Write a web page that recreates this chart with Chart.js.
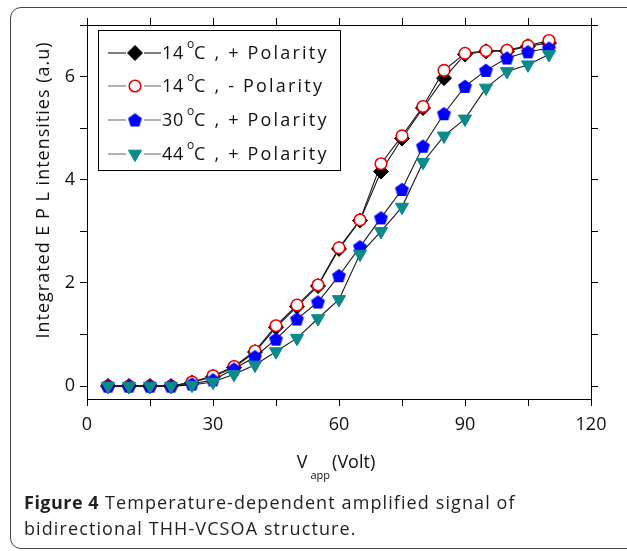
<!DOCTYPE html>
<html><head><meta charset="utf-8">
<script src="https://cdn.jsdelivr.net/npm/chart.js@4/dist/chart.umd.min.js"></script>
<style>
body{margin:0;background:#fff;}
#wrap{position:relative;width:627px;height:551px;overflow:hidden;background:#fff;}
#frame{position:absolute;left:10px;top:7px;width:660px;height:542px;border:1px solid #444;border-radius:11px;box-sizing:border-box;}
#c{position:absolute;left:0;top:0;}
#cap{position:absolute;left:24px;top:489px;font-family:"Open Sans";font-size:18px;letter-spacing:1.1px;line-height:26px;color:#231f20;white-space:nowrap;}
#cap b{letter-spacing:0.5px;}
</style></head>
<body><div id="wrap"><div id="frame"></div><canvas id="c" width="627" height="551"></canvas><div id="cap"><b>Figure 4</b> Temperature-dependent amplified signal of<br>bidirectional THH-VCSOA structure.</div></div>
<script>
// ---- data ----
const voltages = [5,10,15,20,25,30,35,40,45,50,55,60,65,70,75,80,85,90,95,100,105,110];
const pos14 = [0,0,0,0,0.07,0.18,0.36,0.66,1.14,1.54,1.94,2.66,3.21,4.16,4.80,5.39,5.97,6.43,6.49,6.49,6.59,6.65];
const neg14 = [0,0,0,0,0.08,0.20,0.38,0.68,1.17,1.57,1.96,2.68,3.22,4.31,4.85,5.42,6.12,6.45,6.50,6.51,6.60,6.70];
const pos30 = [0,0,0,0,0.04,0.12,0.33,0.57,0.91,1.30,1.63,2.14,2.70,3.26,3.81,4.65,5.28,5.81,6.12,6.36,6.48,6.55];
const pos44 = [0,0,0,0,0.02,0.08,0.23,0.41,0.67,0.93,1.31,1.68,2.56,3.00,3.47,4.34,4.85,5.18,5.78,6.10,6.23,6.43];
const legendTemps = ["14","14","30","44"];
const legendTails = ["C , + Polarity","C , - Polarity","C , + Polarity","C , + Polarity"];
const xTicksMajor = [0,30,60,90,120];
const xTicksAll = [0,15,30,45,60,75,90,105,120];
const yTicksMajor = [0,2,4,6];
const yTicksAll = [0,1,2,3,4,5,6,7];

const pts = arr => voltages.map((v,i)=>({x:v,y:arr[i]}));
const FONT = '"Open Sans", sans-serif';

// pentagon marker
function makePentagon(r, color){
  const s = Math.ceil(r*2+2);
  const cv = document.createElement('canvas'); cv.width = s; cv.height = s;
  const g = cv.getContext('2d');
  g.beginPath();
  for(let k=0;k<5;k++){
    const a = -Math.PI/2 + k*2*Math.PI/5;
    const px = s/2 + r*Math.cos(a), py = s/2 + r*Math.sin(a)+0.6;
    k?g.lineTo(px,py):g.moveTo(px,py);
  }
  g.closePath(); g.fillStyle=color; g.fill();
  return cv;
}
const pent = makePentagon(7.3,'#0000ff');

const markerDefs = [
  {pointStyle:'rectRot', radius:7.5, rotation:0, fill:'#000', stroke:'#000', bw:1},
  {pointStyle:'circle', radius:5.8, rotation:0, fill:'#fff', stroke:'#ee0000', bw:1.6},
  {pointStyle:pent, radius:7, rotation:0, fill:'#0000ff', stroke:'#0000ff', bw:0},
  {pointStyle:'triangle', radius:7.6, rotation:180, fill:'#0b8a8a', stroke:'#0b8a8a', bw:1}
];
const series = [pos14, neg14, pos30, pos44];

const datasets = series.map((arr,i)=>({
  data: pts(arr),
  borderColor:'#1a1a1a', borderWidth:1.1,
  pointStyle: markerDefs[i].pointStyle,
  pointRadius: markerDefs[i].radius,
  pointRotation: markerDefs[i].rotation,
  pointBackgroundColor: markerDefs[i].fill,
  pointBorderColor: markerDefs[i].stroke,
  pointBorderWidth: markerDefs[i].bw,
  order: 4-i,
  tension:0
}));

const textPlugin = {
  id:'texts',
  afterDraw(chart){
    const ctx = chart.ctx;
    ctx.save();
    // legend box
    const bx=98, by=30, bw=242, bh=140;
    ctx.fillStyle='#fff'; ctx.fillRect(bx,by,bw,bh);
    ctx.strokeStyle='#000'; ctx.lineWidth=1; ctx.strokeRect(bx+0.5,by+0.5,bw,bh);
    const rows=[53,86,120,154];
    rows.forEach((ry,i)=>{
      ctx.strokeStyle = i===0?'#000':'#666'; ctx.lineWidth=1.2;
      ctx.beginPath(); ctx.moveTo(108,ry); ctx.lineTo(126,ry); ctx.moveTo(144,ry); ctx.lineTo(161,ry); ctx.stroke();
      const m = markerDefs[i];
      ctx.fillStyle=m.fill; ctx.strokeStyle=m.stroke; ctx.lineWidth=m.bw;
      Chart.helpers.drawPoint(ctx,{pointStyle:m.pointStyle,radius:m.radius,rotation:m.rotation,borderWidth:m.bw},135,ry);
      ctx.fillStyle='#111'; ctx.textBaseline='middle'; ctx.textAlign='left';
      ctx.font='18px '+FONT; ctx.letterSpacing='0.6px';
      ctx.fillText(legendTemps[i],162,ry+1);
      ctx.font='12px '+FONT; ctx.letterSpacing='0px';
      ctx.fillText('o',187,ry-8);
      ctx.font='18px '+FONT; ctx.letterSpacing='2.2px';
      ctx.fillText(legendTails[i],194,ry+1);
    });
    ctx.letterSpacing='0px';
    // y title
    ctx.save();
    ctx.translate(44,190); ctx.rotate(-Math.PI/2);
    ctx.font='18px '+FONT; ctx.textAlign='center'; ctx.textBaseline='middle'; ctx.fillStyle='#111';
    ctx.letterSpacing='1px';
    ctx.fillText('Integrated E P L intensities (a.u)',0,0);
    ctx.restore();
    // x title
    ctx.font='18px '+FONT; ctx.textBaseline='alphabetic'; ctx.textAlign='left'; ctx.fillStyle='#111';
    const wV = ctx.measureText('V').width, wP = ctx.measureText('(Volt)').width;
    ctx.font='11px '+FONT; const wS = ctx.measureText('app').width+5;
    let x0 = 336 - (wV+wS+wP)/2;
    ctx.font='18px '+FONT; ctx.fillText('V',x0,468);
    ctx.font='11px '+FONT; ctx.fillText('app',x0+wV+3,479);
    ctx.font='18px '+FONT; ctx.fillText('(Volt)',x0+wV+wS,468);
    ctx.restore();
  }
};

const axisCommon = {
  grid:{drawOnChartArea:false, drawTicks:true, tickLength:7, color:'#000', lineWidth:1},
  border:{display:true, color:'#000', width:1}
};
const setX = s => { s.ticks = xTicksAll.map(v=>({value:v})); };
const setY = s => { s.ticks = yTicksAll.map(v=>({value:v})); };

new Chart(document.getElementById('c'),{
  type:'line',
  data:{datasets},
  options:{
    responsive:false, animation:false, devicePixelRatio:1,
    layout:{padding:{left:0,right:29,top:18,bottom:0}},
    plugins:{legend:{display:false}, tooltip:{enabled:false}},
    scales:{
      x:{type:'linear', position:'bottom', min:0, max:120, ...axisCommon,
         ticks:{autoSkip:false, maxRotation:0, padding:8, color:'#111', font:{family:FONT,size:18},
           callback:v=> xTicksMajor.includes(v)? String(v):''},
         afterBuildTicks:setX, afterFit(s){s.height=152;}},
      x2:{type:'linear', position:'top', min:0, max:120, ...axisCommon,
         ticks:{display:false}, afterBuildTicks:setX, afterFit(s){s.height=7;}},
      y:{type:'linear', position:'left', min:-0.25, max:7, ...axisCommon,
         ticks:{autoSkip:false, padding:5, color:'#111', font:{family:FONT,size:18},
           callback:v=> yTicksMajor.includes(v)? String(v):''},
         afterBuildTicks:setY, afterFit(s){s.width=87;}},
      y2:{type:'linear', position:'right', min:-0.25, max:7, ...axisCommon,
         ticks:{display:false}, afterBuildTicks:setY, afterFit(s){s.width=7;}}
    }
  },
  plugins:[textPlugin]
});
</script>
</body></html>
